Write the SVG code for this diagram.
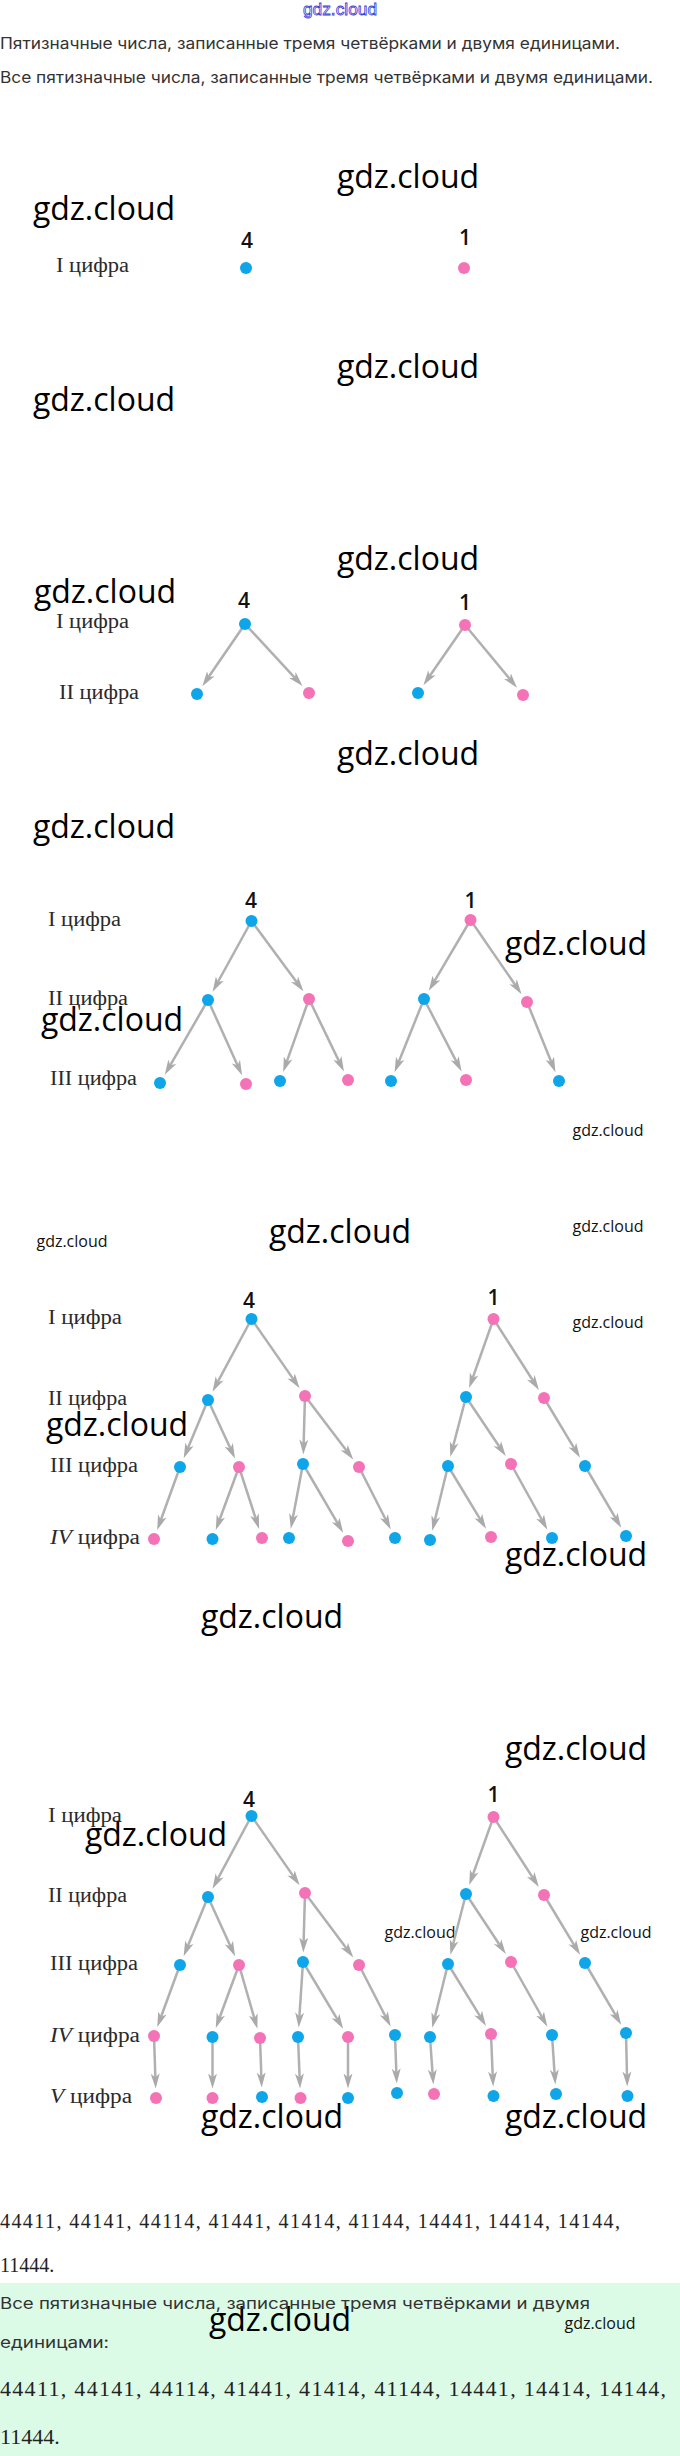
<svg xmlns="http://www.w3.org/2000/svg" width="680" height="2456" viewBox="0 0 680 2456">
<defs>
<style>
.wm{font-family:"Open Sans","Noto Sans",sans-serif;font-size:32px;fill:#000;text-anchor:middle}
.wms{font-family:"Open Sans","Noto Sans",sans-serif;font-size:16px;fill:#111;text-anchor:middle}
.hd{font-family:Inter,"Liberation Sans",sans-serif;font-size:16px;fill:#333}
.lb{font-family:"Liberation Serif",serif;font-size:20px;fill:#2a2a2a}
.dg{font-family:"Open Sans","Noto Sans",sans-serif;font-size:21px;font-weight:600;fill:#111;text-anchor:middle}
.num{font-family:"Liberation Serif",serif;fill:#222}
.b{fill:#0ea5e9}
.p{fill:#f472b6}
.e line{stroke:#b0b0b0;stroke-width:2.5;fill:none;marker-end:url(#ah)}
</style>
<marker id="ah" viewBox="0 0 15 10" refX="8.5" refY="5" markerWidth="15" markerHeight="10" markerUnits="userSpaceOnUse" orient="auto">
<path d="M0,0.5 L15,5 L0,9.5 L4,5 Z" fill="#aaaaaa"/>
</marker>
</defs>
<rect x="0" y="0" width="680" height="2456" fill="#fff"/>
<rect x="0" y="2283" width="680" height="173" fill="#dcfbe6"/>

<g id="header">
<text x="340" y="15" font-family="Liberation Sans,sans-serif" font-size="17" fill="#fff" stroke="#3c3cd8" stroke-width="0.8" text-anchor="middle" textLength="74" lengthAdjust="spacingAndGlyphs">gdz.cloud</text>
<text class="hd" x="0" y="49" textLength="620" lengthAdjust="spacingAndGlyphs">Пятизначные числа, записанные тремя четвёрками и двумя единицами.</text>
<text class="hd" x="0" y="83" textLength="653" lengthAdjust="spacingAndGlyphs">Все пятизначные числа, записанные тремя четвёрками и двумя единицами.</text>
</g>

<g id="watermarks">
<text class="wm" x="408" y="188">gdz.cloud</text>
<text class="wm" x="104" y="220">gdz.cloud</text>
<text class="wm" x="408" y="378">gdz.cloud</text>
<text class="wm" x="104" y="411">gdz.cloud</text>
<text class="wm" x="408" y="570">gdz.cloud</text>
<text class="wm" x="105" y="603">gdz.cloud</text>
<text class="wm" x="408" y="765">gdz.cloud</text>
<text class="wm" x="104" y="838">gdz.cloud</text>
<text class="wm" x="576" y="955">gdz.cloud</text>
<text class="wm" x="112" y="1031">gdz.cloud</text>
<text class="wms" x="608" y="1136">gdz.cloud</text>
<text class="wms" x="72" y="1247">gdz.cloud</text>
<text class="wm" x="340" y="1243">gdz.cloud</text>
<text class="wms" x="608" y="1232">gdz.cloud</text>
<text class="wms" x="608" y="1328">gdz.cloud</text>
<text class="wm" x="117" y="1436">gdz.cloud</text>
<text class="wm" x="576" y="1566">gdz.cloud</text>
<text class="wm" x="272" y="1628">gdz.cloud</text>
<text class="wm" x="576" y="1760">gdz.cloud</text>
<text class="wm" x="156" y="1846">gdz.cloud</text>
<text class="wms" x="420" y="1938" font-size="13">gdz.cloud</text>
<text class="wms" x="616" y="1938" font-size="13">gdz.cloud</text>
<text class="wm" x="272" y="2128">gdz.cloud</text>
<text class="wm" x="576" y="2128">gdz.cloud</text>
<text class="wm" x="280" y="2331">gdz.cloud</text>
<text class="wms" x="600" y="2329" font-size="21">gdz.cloud</text>
</g>

<g id="labels">
<text class="lb" x="56" y="272" textLength="73" lengthAdjust="spacingAndGlyphs">I цифра</text>
<text class="lb" x="56" y="628" textLength="73" lengthAdjust="spacingAndGlyphs">I цифра</text>
<text class="lb" x="59" y="699" textLength="80" lengthAdjust="spacingAndGlyphs">II цифра</text>
<text class="lb" x="48" y="926" textLength="73" lengthAdjust="spacingAndGlyphs">I цифра</text>
<text class="lb" x="48" y="1005" textLength="80" lengthAdjust="spacingAndGlyphs">II цифра</text>
<text class="lb" x="50" y="1085" textLength="87" lengthAdjust="spacingAndGlyphs">III цифра</text>
<text class="lb" x="48" y="1324" textLength="74" lengthAdjust="spacingAndGlyphs">I цифра</text>
<text class="lb" x="48" y="1405" textLength="79" lengthAdjust="spacingAndGlyphs">II цифра</text>
<text class="lb" x="50" y="1472" textLength="88" lengthAdjust="spacingAndGlyphs">III цифра</text>
<text class="lb" x="50" y="1544" textLength="90" lengthAdjust="spacingAndGlyphs"><tspan font-style="italic">IV</tspan> цифра</text>
<text class="lb" x="48" y="1822" textLength="74" lengthAdjust="spacingAndGlyphs">I цифра</text>
<text class="lb" x="48" y="1902" textLength="79" lengthAdjust="spacingAndGlyphs">II цифра</text>
<text class="lb" x="50" y="1970" textLength="88" lengthAdjust="spacingAndGlyphs">III цифра</text>
<text class="lb" x="50" y="2042" textLength="90" lengthAdjust="spacingAndGlyphs"><tspan font-style="italic">IV</tspan> цифра</text>
<text class="lb" x="50" y="2103" textLength="82" lengthAdjust="spacingAndGlyphs"><tspan font-style="italic">V</tspan> цифра</text>
</g>

<g id="connectors" class="e">
<line x1="245" y1="624" x2="206" y2="680.8"/>
<line x1="245" y1="624" x2="298.1" y2="681.3"/>
<line x1="465" y1="625" x2="427.1" y2="679.8"/>
<line x1="465" y1="625" x2="512.8" y2="682.7"/>

<line x1="251.5" y1="921" x2="215.7" y2="986"/>
<line x1="251.5" y1="921" x2="299.5" y2="986.1"/>
<line x1="470.5" y1="920" x2="432.1" y2="985.2"/>
<line x1="470.5" y1="920" x2="517.9" y2="988.8"/>
<line x1="208" y1="1000" x2="168" y2="1069.1"/>
<line x1="208" y1="1000" x2="239.4" y2="1069.4"/>
<line x1="309" y1="999" x2="285.3" y2="1065.9"/>
<line x1="309" y1="999" x2="341.1" y2="1065.6"/>
<line x1="424" y1="999" x2="397" y2="1066.2"/>
<line x1="424" y1="999" x2="458.6" y2="1065.8"/>
<line x1="527" y1="1002" x2="553" y2="1066.2"/>

<line x1="251.5" y1="1319" x2="215.6" y2="1385.9"/>
<line x1="251.5" y1="1319" x2="295.9" y2="1382.9"/>
<line x1="493.5" y1="1319" x2="471.3" y2="1381.9"/>
<line x1="493.5" y1="1319" x2="535.4" y2="1384.5"/>
<line x1="208" y1="1400" x2="186.2" y2="1452.2"/>
<line x1="208" y1="1400" x2="232.3" y2="1452.5"/>
<line x1="305" y1="1396" x2="303.5" y2="1448"/>
<line x1="305" y1="1396" x2="349.3" y2="1454.3"/>
<line x1="466" y1="1397" x2="452" y2="1450.5"/>
<line x1="466" y1="1397" x2="502.1" y2="1450.7"/>
<line x1="544" y1="1398" x2="576.7" y2="1452.3"/>
<line x1="180" y1="1467" x2="159.4" y2="1524"/>
<line x1="239" y1="1467" x2="218" y2="1524"/>
<line x1="239" y1="1467" x2="257.1" y2="1522.8"/>
<line x1="303" y1="1464" x2="292" y2="1522.3"/>
<line x1="303" y1="1464" x2="339.9" y2="1527.2"/>
<line x1="359" y1="1467" x2="387.8" y2="1523.7"/>
<line x1="448" y1="1466" x2="433.8" y2="1524.5"/>
<line x1="448" y1="1466" x2="482.7" y2="1523.3"/>
<line x1="511" y1="1464" x2="544.2" y2="1524"/>
<line x1="585" y1="1466" x2="617.9" y2="1522.2"/>

<line x1="251.5" y1="1816" x2="215.6" y2="1882.9"/>
<line x1="251.5" y1="1816" x2="295.9" y2="1879.9"/>
<line x1="493.5" y1="1817" x2="471.4" y2="1878.9"/>
<line x1="493.5" y1="1817" x2="535.3" y2="1881.6"/>
<line x1="208" y1="1897" x2="186.1" y2="1950.2"/>
<line x1="208" y1="1897" x2="232.4" y2="1950.4"/>
<line x1="305" y1="1893" x2="303.5" y2="1946"/>
<line x1="305" y1="1893" x2="349.4" y2="1952.2"/>
<line x1="466" y1="1894" x2="452" y2="1948.5"/>
<line x1="466" y1="1894" x2="502.2" y2="1948.7"/>
<line x1="544" y1="1895" x2="576.7" y2="1949.3"/>
<line x1="180" y1="1965" x2="159.5" y2="2021"/>
<line x1="239" y1="1965" x2="218" y2="2022"/>
<line x1="239" y1="1965" x2="255.6" y2="2022.6"/>
<line x1="303" y1="1962" x2="299.1" y2="2021"/>
<line x1="303" y1="1962" x2="339.8" y2="2023.3"/>
<line x1="359" y1="1965" x2="387.7" y2="2020.8"/>
<line x1="448" y1="1964" x2="433.8" y2="2021.5"/>
<line x1="448" y1="1964" x2="482.6" y2="2020.4"/>
<line x1="511" y1="1962" x2="544.2" y2="2021"/>
<line x1="585" y1="1963" x2="617.9" y2="2019.2"/>
<line x1="154" y1="2036" x2="155.5" y2="2082"/>
<line x1="212.5" y1="2037" x2="212.5" y2="2082"/>
<line x1="260" y1="2038" x2="261.5" y2="2081"/>
<line x1="298" y1="2037" x2="299.8" y2="2082"/>
<line x1="348" y1="2037" x2="348" y2="2082"/>
<line x1="395" y1="2035" x2="396.5" y2="2077"/>
<line x1="430" y1="2037" x2="432.9" y2="2078"/>
<line x1="491" y1="2034" x2="492.9" y2="2080"/>
<line x1="552" y1="2035" x2="554.9" y2="2078"/>
<line x1="626" y1="2033" x2="627.1" y2="2080"/>
</g>

<g id="digits">
<text class="dg" x="247" y="248">4</text>
<text class="dg" x="465" y="245">1</text>
<text class="dg" x="244" y="608">4</text>
<text class="dg" x="465" y="610">1</text>
<text class="dg" x="251" y="908">4</text>
<text class="dg" x="470.5" y="908">1</text>
<text class="dg" x="249" y="1308">4</text>
<text class="dg" x="493.5" y="1305">1</text>
<text class="dg" x="249" y="1807">4</text>
<text class="dg" x="493.5" y="1802">1</text>
</g>

<g id="nodes">
<g id="t1-4"><circle class="b" cx="246" cy="268" r="6"/></g>
<g id="t1-1"><circle class="p" cx="464" cy="268" r="6"/></g>

<g id="t2-4"><circle class="b" cx="245" cy="624" r="6"/></g>
<g id="t2-1"><circle class="p" cx="465" cy="625" r="6"/></g>
<g id="t2-44"><circle class="b" cx="197" cy="694" r="6"/></g>
<g id="t2-41"><circle class="p" cx="309" cy="693" r="6"/></g>
<g id="t2-14"><circle class="b" cx="418" cy="693" r="6"/></g>
<g id="t2-11"><circle class="p" cx="523" cy="695" r="6"/></g>

<g id="t3-4"><circle class="b" cx="251.5" cy="921" r="6"/></g>
<g id="t3-1"><circle class="p" cx="470.5" cy="920" r="6"/></g>
<g id="t3-44"><circle class="b" cx="208" cy="1000" r="6"/></g>
<g id="t3-41"><circle class="p" cx="309" cy="999" r="6"/></g>
<g id="t3-14"><circle class="b" cx="424" cy="999" r="6"/></g>
<g id="t3-11"><circle class="p" cx="527" cy="1002" r="6"/></g>
<g id="t3-444"><circle class="b" cx="160" cy="1083" r="6"/></g>
<g id="t3-441"><circle class="p" cx="246" cy="1084" r="6"/></g>
<g id="t3-414"><circle class="b" cx="280" cy="1081" r="6"/></g>
<g id="t3-411"><circle class="p" cx="348" cy="1080" r="6"/></g>
<g id="t3-144"><circle class="b" cx="391" cy="1081" r="6"/></g>
<g id="t3-141"><circle class="p" cx="466" cy="1080" r="6"/></g>
<g id="t3-114"><circle class="b" cx="559" cy="1081" r="6"/></g>

<g id="t4-4"><circle class="b" cx="251.5" cy="1319" r="6"/></g>
<g id="t4-1"><circle class="p" cx="493.5" cy="1319" r="6"/></g>
<g id="t4-44"><circle class="b" cx="208" cy="1400" r="6"/></g>
<g id="t4-41"><circle class="p" cx="305" cy="1396" r="6"/></g>
<g id="t4-14"><circle class="b" cx="466" cy="1397" r="6"/></g>
<g id="t4-11"><circle class="p" cx="544" cy="1398" r="6"/></g>
<g id="t4-444"><circle class="b" cx="180" cy="1467" r="6"/></g>
<g id="t4-441"><circle class="p" cx="239" cy="1467" r="6"/></g>
<g id="t4-414"><circle class="b" cx="303" cy="1464" r="6"/></g>
<g id="t4-411"><circle class="p" cx="359" cy="1467" r="6"/></g>
<g id="t4-144"><circle class="b" cx="448" cy="1466" r="6"/></g>
<g id="t4-141"><circle class="p" cx="511" cy="1464" r="6"/></g>
<g id="t4-114"><circle class="b" cx="585" cy="1466" r="6"/></g>
<g id="t4-4441"><circle class="p" cx="154" cy="1539" r="6"/></g>
<g id="t4-4414"><circle class="b" cx="212.5" cy="1539" r="6"/></g>
<g id="t4-4411"><circle class="p" cx="262" cy="1538" r="6"/></g>
<g id="t4-4144"><circle class="b" cx="289" cy="1538" r="6"/></g>
<g id="t4-4141"><circle class="p" cx="348" cy="1541" r="6"/></g>
<g id="t4-4114"><circle class="b" cx="395" cy="1538" r="6"/></g>
<g id="t4-1444"><circle class="b" cx="430" cy="1540" r="6"/></g>
<g id="t4-1441"><circle class="p" cx="491" cy="1537" r="6"/></g>
<g id="t4-1414"><circle class="b" cx="552" cy="1538" r="6"/></g>
<g id="t4-1144"><circle class="b" cx="626" cy="1536" r="6"/></g>

<g id="t5-4"><circle class="b" cx="251.5" cy="1816" r="6"/></g>
<g id="t5-1"><circle class="p" cx="493.5" cy="1817" r="6"/></g>
<g id="t5-44"><circle class="b" cx="208" cy="1897" r="6"/></g>
<g id="t5-41"><circle class="p" cx="305" cy="1893" r="6"/></g>
<g id="t5-14"><circle class="b" cx="466" cy="1894" r="6"/></g>
<g id="t5-11"><circle class="p" cx="544" cy="1895" r="6"/></g>
<g id="t5-444"><circle class="b" cx="180" cy="1965" r="6"/></g>
<g id="t5-441"><circle class="p" cx="239" cy="1965" r="6"/></g>
<g id="t5-414"><circle class="b" cx="303" cy="1962" r="6"/></g>
<g id="t5-411"><circle class="p" cx="359" cy="1965" r="6"/></g>
<g id="t5-144"><circle class="b" cx="448" cy="1964" r="6"/></g>
<g id="t5-141"><circle class="p" cx="511" cy="1962" r="6"/></g>
<g id="t5-114"><circle class="b" cx="585" cy="1963" r="6"/></g>
<g id="t5-4441"><circle class="p" cx="154" cy="2036" r="6"/></g>
<g id="t5-4414"><circle class="b" cx="212.5" cy="2037" r="6"/></g>
<g id="t5-4411"><circle class="p" cx="260" cy="2038" r="6"/></g>
<g id="t5-4144"><circle class="b" cx="298" cy="2037" r="6"/></g>
<g id="t5-4141"><circle class="p" cx="348" cy="2037" r="6"/></g>
<g id="t5-4114"><circle class="b" cx="395" cy="2035" r="6"/></g>
<g id="t5-1444"><circle class="b" cx="430" cy="2037" r="6"/></g>
<g id="t5-1441"><circle class="p" cx="491" cy="2034" r="6"/></g>
<g id="t5-1414"><circle class="b" cx="552" cy="2035" r="6"/></g>
<g id="t5-1144"><circle class="b" cx="626" cy="2033" r="6"/></g>
<g id="t5-44411"><circle class="p" cx="156" cy="2098" r="6"/></g>
<g id="t5-44141"><circle class="p" cx="212.5" cy="2098" r="6"/></g>
<g id="t5-44114"><circle class="b" cx="262" cy="2097" r="6"/></g>
<g id="t5-41441"><circle class="p" cx="300.5" cy="2098" r="6"/></g>
<g id="t5-41414"><circle class="b" cx="348" cy="2098" r="6"/></g>
<g id="t5-41144"><circle class="b" cx="397" cy="2093" r="6"/></g>
<g id="t5-14441"><circle class="p" cx="434" cy="2094" r="6"/></g>
<g id="t5-14414"><circle class="b" cx="493.5" cy="2096" r="6"/></g>
<g id="t5-14144"><circle class="b" cx="556" cy="2094" r="6"/></g>
<g id="t5-11444"><circle class="b" cx="627.5" cy="2096" r="6"/></g>
</g>

<g id="answer">
<text class="num" x="0" y="2228" font-size="20" textLength="620" lengthAdjust="spacing">44411, 44141, 44114, 41441, 41414, 41144, 14441, 14414, 14144,</text>
<text class="num" x="0" y="2272" font-size="20">11444.</text>
<text class="hd" x="0" y="2309" textLength="590" lengthAdjust="spacingAndGlyphs">Все пятизначные числа, записанные тремя четвёрками и двумя</text>
<text class="hd" x="0" y="2348" textLength="109" lengthAdjust="spacingAndGlyphs">единицами:</text>
<text class="num" x="0" y="2396" font-size="22" textLength="666" lengthAdjust="spacing">44411, 44141, 44114, 41441, 41414, 41144, 14441, 14414, 14144,</text>
<text class="num" x="0" y="2444" font-size="22">11444.</text>
</g>
</svg>
